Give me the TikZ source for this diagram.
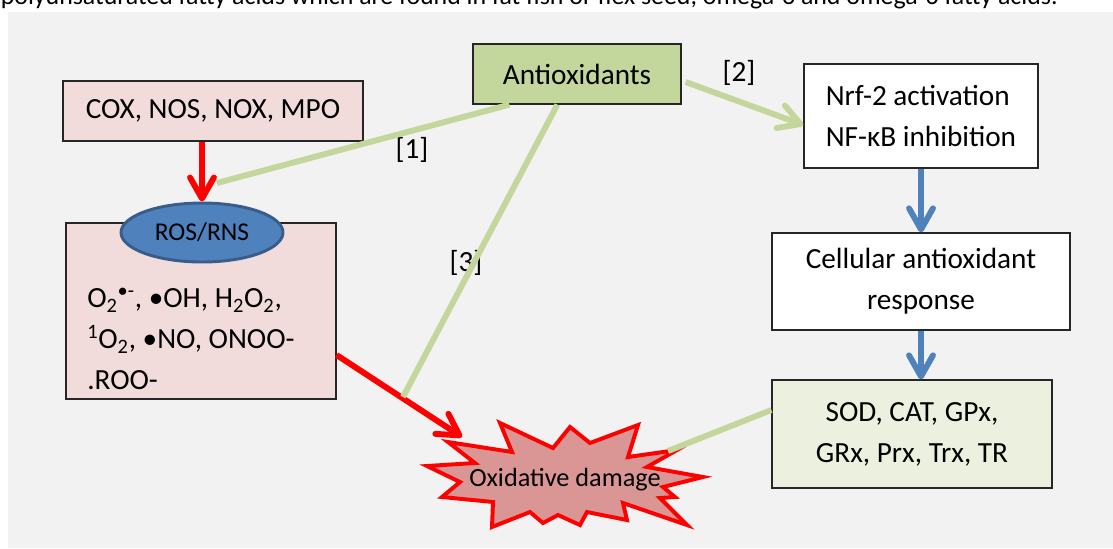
\documentclass[tikz,border=0pt]{standalone}
\usepackage{fontspec}
\setmainfont{Carlito}
\usepackage{tikz}
\usetikzlibrary{shapes.geometric,arrows.meta}
\definecolor{bggray}{HTML}{F2F2F2}
\definecolor{coxpink}{HTML}{F2DCDB}
\definecolor{antigreen}{HTML}{C3D69B}
\definecolor{sodgreen}{HTML}{EBF1DE}
\definecolor{rosblue}{HTML}{4F81BD}
\definecolor{rosedge}{HTML}{385D8A}
\definecolor{burstfill}{HTML}{D99694}

\begin{document}
\begin{tikzpicture}[scale=0.25]
\tikzstyle{every node}+=[inner sep=0pt, font=\fontsize{20.8}{29.2}\selectfont]
\tikzstyle{box}=[draw=black!85, line width=0.9pt, rectangle]
\tikzstyle{tip}=[-{Straight Barb[length=15pt,width=17pt,round]}]
\tikzstyle{redarrow}=[red, line width=4.2pt, tip]
\tikzstyle{bluearrow}=[rosblue, line width=4.2pt, tip]
\tikzstyle{greenarrow}=[antigreen, line width=4.2pt, tip]
\tikzstyle{greenline}=[antigreen, line width=4.2pt]
\useasboundingbox (0,0) rectangle (111.3,-54.8);
\fill [bggray] (0.8,-1.2) rectangle (111.3,-54.8);
\node [anchor=base east, font=\fontsize{18.4}{22}\selectfont] (note) at (105.8,-0.45) {polyunsaturated fatty acids which are found in fat fish or flex seed, omega-3 and omega-6 fatty acids.};
\node [box, fill=coxpink, minimum width=7.5cm, minimum height=1.5cm] (cox) at (21.3,-11.1) {COX, NOS, NOX, MPO};
\node [box, fill=antigreen, minimum width=5.2cm, minimum height=1.5cm] (antiox) at (57.7,-7.4) {Antioxidants};
\node [box, fill=white, minimum width=5.85cm, minimum height=2.6cm, align=left] (nrf) at (92.1,-11.6) {Nrf-2 activation\\NF-κB inhibition};
\node [box, fill=white, minimum width=7.45cm, minimum height=2.425cm, align=center] (cell) at (92.1,-28.15) {Cellular antioxidant\\response};
\node [box, fill=sodgreen, minimum width=7cm, minimum height=2.7cm, align=center] (sod) at (91.2,-43.4) {SOD, CAT, GPx,\\GRx, Prx, Trx, TR};
\node [box, fill=coxpink, minimum width=6.75cm, minimum height=4.4cm] (rosbox) at (20.1,-31.1) {};
\node [ellipse, draw=rosedge, line width=2.1pt, fill=rosblue, minimum width=4.05cm, minimum height=1.475cm, font=\fontsize{18.2}{22}\selectfont] (ros) at (20.2,-23.25) {ROS/RNS};
\node [anchor=west, align=left] (roslist) at (8.7,-33.9) {O\textsubscript{2}\textsuperscript{•-}, •OH, H\textsubscript{2}O\textsubscript{2},\\\textsuperscript{1}O\textsubscript{2}, •NO, ONOO-\\.ROO-};
\draw [red, line width=2.8pt, fill=burstfill] (50.0,-42.3) -- (51.2,-45.2) -- (44.8,-44.2) -- (47.5,-46.3) -- (42.7,-46.6) -- (46.0,-48.2) -- (44.2,-49.7) -- (49.3,-50.2) -- (49.2,-52.7) -- (53.0,-51.2) -- (54.3,-52.3) -- (55.8,-51.5) -- (58.0,-52.5) -- (58.7,-51.2) -- (62.7,-52.0) -- (62.3,-50.3) -- (68.7,-52.5) -- (66.0,-49.8) -- (67.5,-49.7) -- (66.3,-48.7) -- (70.3,-47.7) -- (64.7,-46.7) -- (67.7,-45.0) -- (62.8,-45.7) -- (63.8,-42.5) -- (59.0,-44.3) -- (57.0,-42.7) -- (55.3,-44.8) -- cycle;
\node [font=\fontsize{18.7}{22}\selectfont] (dmg) at (56.5,-48.0) {Oxidative damage};
\node (lab1) at (41.2,-15.0) {[1]};
\node (lab2) at (73.9,-7.3) {[2]};
\node (lab3) at (46.6,-26.3) {[3]};
\coordinate (l1end) at (21.7,-18.3);
\coordinate (l3end) at (40.3,-39.7);
\coordinate (dmgnw) at (46.2,-43.7);
\coordinate (dmgne) at (66.8,-45.1);
\draw [redarrow] (cox.south -| ros.north) -- (ros.north);
\draw [redarrow] ([yshift=-4.4cm]rosbox.east) -- (dmgnw);
\draw [greenline] ([xshift=3.7cm]antiox.south west) -- (l1end);
\draw [greenline] ([xshift=8.5cm]antiox.south west) -- (l3end);
\draw [greenarrow] ([shift={(0.4cm,-0.8cm)}]antiox.east) -- ([yshift=-0.9cm]nrf.west);
\draw [greenline] ([yshift=2.4cm]sod.west) -- (dmgne);
\draw [bluearrow] (nrf.south) -- (cell.north);
\draw [bluearrow] (cell.south) -- (cell.south |- sod.north);
\end{tikzpicture}
\end{document}
